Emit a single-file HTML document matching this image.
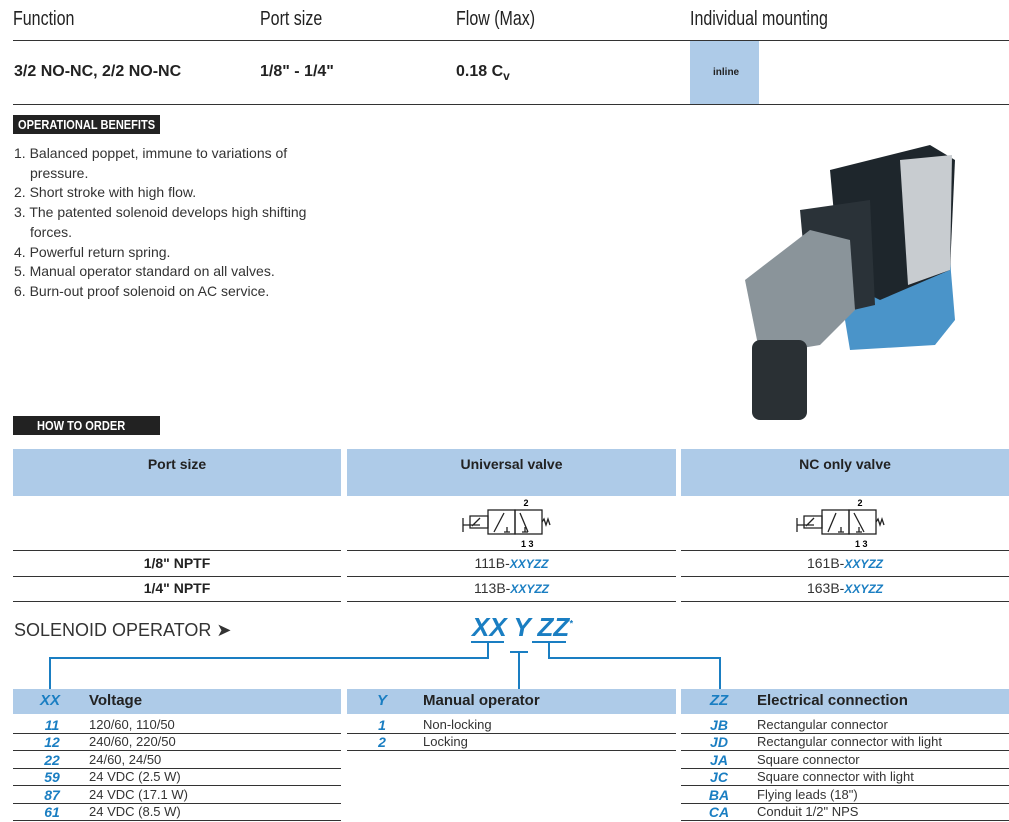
<!DOCTYPE html>
<html><head><meta charset="utf-8"><style>
body{margin:0;width:1009px;height:822px;background:#fff;position:relative;overflow:hidden;font-family:"Liberation Sans",sans-serif;color:#222}
.a{position:absolute;white-space:nowrap}
.hd{font-family:"Liberation Sans Narrow","Liberation Sans",sans-serif;font-size:20px;top:8px;transform:scaleX(.8);transform-origin:left}
.bv{font-weight:bold;font-size:16px;top:63px}
.hl{position:absolute;background:#333;height:1px}
.blk{position:absolute;background:#222;color:#fff;font-weight:bold;font-size:13px;padding-left:5px;box-sizing:border-box;line-height:19px;white-space:nowrap;overflow:hidden}
.blk span{display:inline-block;transform:scaleX(.85);transform-origin:left}
.li{font-size:14px;left:14px;color:#333}
.bl{position:absolute;background:#aecbe8}
.th{font-weight:bold;font-size:14px;top:456px;text-align:center;position:absolute}
.c{font-size:14px;position:absolute;text-align:center;color:#333}
.x{color:#1a7ec2;font-weight:bold;font-style:italic;font-size:12px}
.cd{color:#1a7ec2;font-weight:bold;font-style:italic;font-size:14px;position:absolute;width:24px;text-align:center}
.tx{font-size:13px;position:absolute;color:#333;white-space:nowrap}
</style></head><body>
<div class="a hd" style="left:13px">Function</div>
<div class="a hd" style="left:260px">Port size</div>
<div class="a hd" style="left:456px">Flow (Max)</div>
<div class="a hd" style="left:690px">Individual mounting</div>
<div class="hl" style="left:13px;top:40px;width:996px"></div>
<div class="bl" style="left:690px;top:41px;width:69px;height:63px"></div>
<div class="a" style="left:713px;top:67px;font-size:10px;font-weight:bold">inline</div>
<div class="a bv" style="left:14px">3/2 NO-NC, 2/2 NO-NC</div>
<div class="a bv" style="left:260px">1/8" - 1/4"</div>
<div class="a bv" style="left:456px">0.18 C<sub style="font-size:12px">v</sub></div>
<div class="hl" style="left:13px;top:104px;width:996px"></div>
<div class="blk" style="left:13px;top:115px;width:147px;height:19px"><span>OPERATIONAL BENEFITS</span></div>
<div class="a li" style="top:145px">1. Balanced poppet, immune to variations of</div>
<div class="a li" style="top:165px;left:30px">pressure.</div>
<div class="a li" style="top:184px">2. Short stroke with high flow.</div>
<div class="a li" style="top:204px">3. The patented solenoid develops high shifting</div>
<div class="a li" style="top:224px;left:30px">forces.</div>
<div class="a li" style="top:244px">4. Powerful return spring.</div>
<div class="a li" style="top:263px">5. Manual operator standard on all valves.</div>
<div class="a li" style="top:283px">6. Burn-out proof solenoid on AC service.</div>
<svg class="a" style="left:730px;top:130px" width="240" height="290">
<polygon points="110,160 220,130 225,190 205,215 120,220" fill="#4a94c9"/>
<polygon points="100,40 200,15 225,30 220,140 150,170 110,150" fill="#1e262c"/>
<polygon points="170,30 222,25 220,140 178,155" fill="#c8ccd0"/>
<polygon points="70,80 140,70 145,175 80,190" fill="#2a3238"/>
<polygon points="15,150 80,100 120,110 125,180 90,215 30,225" fill="#8a949a"/>
<rect x="22" y="210" width="55" height="80" rx="8" fill="#2a3034"/>
</svg>
<div class="blk" style="left:13px;top:416px;width:147px;height:19px;padding-left:24px"><span>HOW TO ORDER</span></div>
<div class="bl" style="left:13px;top:449px;width:328px;height:47px"></div>
<div class="bl" style="left:347px;top:449px;width:329px;height:47px"></div>
<div class="bl" style="left:681px;top:449px;width:328px;height:47px"></div>
<div class="th" style="left:13px;width:328px">Port size</div>
<div class="th" style="left:347px;width:329px">Universal valve</div>
<div class="th" style="left:681px;width:328px">NC only valve</div>
<svg class="a" style="left:460px;top:496px" width="92" height="54">
<g stroke="#222" fill="none" stroke-width="1.3"><path d="M3,22V36M3,29H20M10,20H28V32H10Z M12,30L20,22"/><rect x="28" y="14" width="27" height="24"/><rect x="55" y="14" width="27" height="24"/><path d="M34,36L44,17M60,17L68,36M44,36H50M47,36V31M62,36H68M65,36V31M82,26l2,-3 2,6 2,-6 2,6"/></g>
<text x="66" y="10" font-size="9" font-weight="bold" text-anchor="middle">2</text><text x="61" y="51" font-size="9" font-weight="bold">1  3</text></svg>
<svg class="a" style="left:794px;top:496px" width="92" height="54">
<g stroke="#222" fill="none" stroke-width="1.3"><path d="M3,22V36M3,29H20M10,20H28V32H10Z M12,30L20,22"/><rect x="28" y="14" width="27" height="24"/><rect x="55" y="14" width="27" height="24"/><path d="M34,36L42,17M60,17L70,36M44,36H50M47,36V31M62,36H68M65,36V31M82,26l2,-3 2,6 2,-6 2,6"/></g>
<text x="66" y="10" font-size="9" font-weight="bold" text-anchor="middle">2</text><text x="61" y="51" font-size="9" font-weight="bold">1  3</text></svg>
<div class="hl" style="left:13px;top:550px;width:328px"></div><div class="hl" style="left:347px;top:550px;width:329px"></div><div class="hl" style="left:681px;top:550px;width:328px"></div>
<div class="hl" style="left:13px;top:576px;width:328px"></div><div class="hl" style="left:347px;top:576px;width:329px"></div><div class="hl" style="left:681px;top:576px;width:328px"></div>
<div class="hl" style="left:13px;top:601px;width:328px"></div><div class="hl" style="left:347px;top:601px;width:329px"></div><div class="hl" style="left:681px;top:601px;width:328px"></div>
<div class="a" style="left:13px;width:328px;top:555px;text-align:center;font-weight:bold;font-size:14px">1/8" NPTF</div>
<div class="a" style="left:13px;width:328px;top:580px;text-align:center;font-weight:bold;font-size:14px">1/4" NPTF</div>
<div class="c" style="left:347px;width:329px;top:555px">111B-<span class="x">XXYZZ</span></div>
<div class="c" style="left:347px;width:329px;top:580px">113B-<span class="x">XXYZZ</span></div>
<div class="c" style="left:681px;width:328px;top:555px">161B-<span class="x">XXYZZ</span></div>
<div class="c" style="left:681px;width:328px;top:580px">163B-<span class="x">XXYZZ</span></div>
<div class="a" style="left:14px;top:620px;font-size:18px;color:#333">SOLENOID OPERATOR ➤</div>
<div class="a" style="left:472px;top:612px;font-size:26px;font-weight:bold;font-style:italic;color:#1a7ec2">XX Y ZZ<sup style="font-size:9px">*</sup></div>
<svg class="a" style="left:0;top:640px" width="1009" height="50"><g stroke="#1a7ec2" stroke-width="2" fill="none">
<path d="M471,2H504M488,2V18H50V50"/><path d="M510,12H528M519,12V50"/><path d="M532,2H566M549,2V18H720V50"/></g></svg>
<div class="bl" style="left:13px;top:689px;width:328px;height:25px"></div>
<div class="bl" style="left:347px;top:689px;width:329px;height:25px"></div>
<div class="bl" style="left:681px;top:689px;width:328px;height:25px"></div>
<div class="cd" style="left:38px;top:692px;font-size:15px">XX</div><div class="a" style="left:89px;top:692px;font-weight:bold;font-size:15px">Voltage</div>
<div class="cd" style="left:370px;top:692px;font-size:15px">Y</div><div class="a" style="left:423px;top:692px;font-weight:bold;font-size:15px">Manual operator</div>
<div class="cd" style="left:707px;top:692px;font-size:15px">ZZ</div><div class="a" style="left:757px;top:692px;font-weight:bold;font-size:15px">Electrical connection</div>
<div class="cd" style="left:40px;top:717px">11</div><div class="tx" style="left:89px;top:717px">120/60, 110/50</div>
<div class="cd" style="left:40px;top:734px">12</div><div class="tx" style="left:89px;top:734px">240/60, 220/50</div>
<div class="cd" style="left:40px;top:752px">22</div><div class="tx" style="left:89px;top:752px">24/60, 24/50</div>
<div class="cd" style="left:40px;top:769px">59</div><div class="tx" style="left:89px;top:769px">24 VDC (2.5 W)</div>
<div class="cd" style="left:40px;top:787px">87</div><div class="tx" style="left:89px;top:787px">24 VDC (17.1 W)</div>
<div class="cd" style="left:40px;top:804px">61</div><div class="tx" style="left:89px;top:804px">24 VDC (8.5 W)</div>
<div class="hl" style="left:13px;top:733px;width:328px"></div><div class="hl" style="left:13px;top:750px;width:328px"></div><div class="hl" style="left:13px;top:768px;width:328px"></div><div class="hl" style="left:13px;top:785px;width:328px"></div><div class="hl" style="left:13px;top:803px;width:328px"></div><div class="hl" style="left:13px;top:820px;width:328px"></div>
<div class="cd" style="left:370px;top:717px">1</div><div class="tx" style="left:423px;top:717px">Non-locking</div>
<div class="cd" style="left:370px;top:734px">2</div><div class="tx" style="left:423px;top:734px">Locking</div>
<div class="hl" style="left:347px;top:733px;width:329px"></div><div class="hl" style="left:347px;top:750px;width:329px"></div>
<div class="cd" style="left:707px;top:717px">JB</div><div class="tx" style="left:757px;top:717px">Rectangular connector</div>
<div class="cd" style="left:707px;top:734px">JD</div><div class="tx" style="left:757px;top:734px">Rectangular connector with light</div>
<div class="cd" style="left:707px;top:752px">JA</div><div class="tx" style="left:757px;top:752px">Square connector</div>
<div class="cd" style="left:707px;top:769px">JC</div><div class="tx" style="left:757px;top:769px">Square connector with light</div>
<div class="cd" style="left:707px;top:787px">BA</div><div class="tx" style="left:757px;top:787px">Flying leads (18")</div>
<div class="cd" style="left:707px;top:804px">CA</div><div class="tx" style="left:757px;top:804px">Conduit 1/2" NPS</div>
<div class="hl" style="left:681px;top:733px;width:328px"></div><div class="hl" style="left:681px;top:750px;width:328px"></div><div class="hl" style="left:681px;top:768px;width:328px"></div><div class="hl" style="left:681px;top:785px;width:328px"></div><div class="hl" style="left:681px;top:803px;width:328px"></div><div class="hl" style="left:681px;top:820px;width:328px"></div>
</body></html>
